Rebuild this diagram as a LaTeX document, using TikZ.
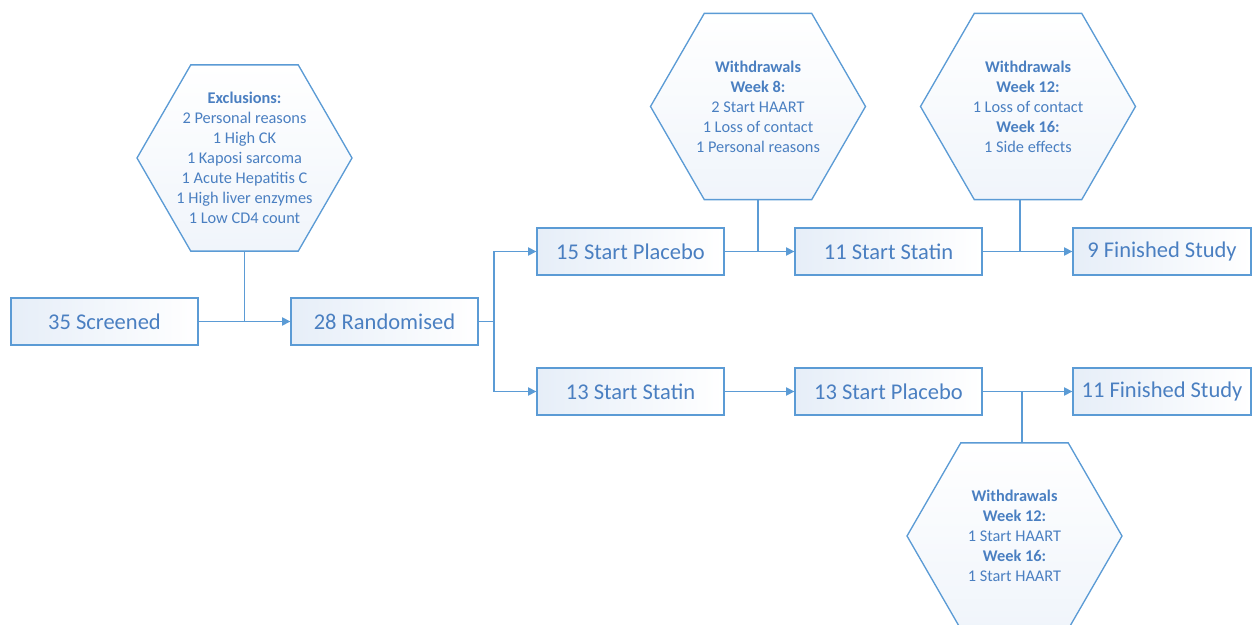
\documentclass[tikz,border=0pt]{standalone}
\usepackage{fontspec}
\setmainfont{Carlito}
\usetikzlibrary{arrows.meta,shapes.geometric}
\definecolor{lineblue}{HTML}{5B9BD5}
\definecolor{textblue}{HTML}{4A7FC1}
\definecolor{fillblue}{HTML}{E6EEF8}
\tikzstyle{stage}=[rectangle, draw=lineblue, line width=0.8pt, left color=fillblue, right color=white, minimum width=112.2pt, minimum height=28.2pt, text=textblue, font=\fontsize{13.5}{15}\selectfont]
\tikzstyle{hexa}=[regular polygon, regular polygon sides=6, draw=lineblue, line width=0.8pt, top color=white, bottom color=fillblue!60, minimum size=129pt, inner sep=0pt]
\tikzstyle{hexnote}=[align=center, text=textblue, font=\fontsize{9.8}{12}\selectfont]
\tikzstyle{flow}=[draw=lineblue, line width=0.8pt]
\tikzstyle{arrow}=[flow, -{Triangle[length=5pt,width=5pt]}]

\begin{document}
\begin{tikzpicture}[x=0.6pt, y=-0.6pt]
    \clip (0,0) rectangle (1253,625);
    % main row
    \node[stage] (scr)  at (104.5, 321.5) {35 Screened};
    \node[stage] (rand) at (384.5, 321.5) {28 Randomised};
    \coordinate (split) at (494, 321.5);
    % placebo first
    \node[stage] (pla1) at (630.5, 251.5) {15 Start Placebo};
    \node[stage] (sta1) at (888.5, 251.5) {11 Start Statin};
    \node[stage, minimum width=106.8pt] (fin1) at (1162, 251.5) {9 Finished Study};
    % statin first
    \node[stage] (sta2) at (630.5, 391.5) {13 Start Statin};
    \node[stage] (pla2) at (888.5, 391.5) {13 Start Placebo};
    \node[stage, minimum width=106.8pt] (fin2) at (1162, 391.5) {11 Finished Study};
    % hexagons
    \node[hexa] (excl) at (244.5, 158) {};
    \node[hexnote] at (excl) {\textbf{Exclusions:}\\2 Personal reasons\\1 High CK\\1 Kaposi sarcoma\\1 Acute Hepatitis C\\1 High liver enzymes\\1 Low CD4 count};
    \node[hexa] (wd1) at (758, 106.5) {};
    \node[hexnote] at (wd1) {\textbf{Withdrawals}\\\textbf{Week 8:}\\2 Start HAART\\1 Loss of contact\\1 Personal reasons};
    \node[hexa] (wd2) at (1028, 106.5) {};
    \node[hexnote] at (wd2) {\textbf{Withdrawals}\\\textbf{Week 12:}\\1 Loss of contact\\\textbf{Week 16:}\\1 Side effects};
    \node[hexa] (wd3) at (1014.5, 536) {};
    \node[hexnote] at (wd3) {\textbf{Withdrawals}\\\textbf{Week 12:}\\1 Start HAART\\\textbf{Week 16:}\\1 Start HAART};
    % connectors
    \draw[arrow] (scr.east) -- (rand.west);
    \draw[flow] (excl.south) -- (excl.south |- scr.east);
    \draw[flow] (rand.east) -- (split);
    \draw[arrow] (split) |- (pla1.west);
    \draw[arrow] (split) |- (sta2.west);
    \draw[arrow] (pla1.east) -- (sta1.west);
    \draw[flow] (wd1.south) -- (wd1.south |- pla1.east);
    \draw[arrow] (sta1.east) -- (fin1.west);
    \draw[flow] ([xshift=-4.8pt]wd2.south) -- ([xshift=-4.8pt]wd2.south |- sta1.east);
    \draw[arrow] (sta2.east) -- (pla2.west);
    \draw[arrow] (pla2.east) -- (fin2.west);
    \draw[flow] ([xshift=4.5pt]wd3.north) -- ([xshift=4.5pt]wd3.north |- pla2.east);
\end{tikzpicture}
\end{document}
